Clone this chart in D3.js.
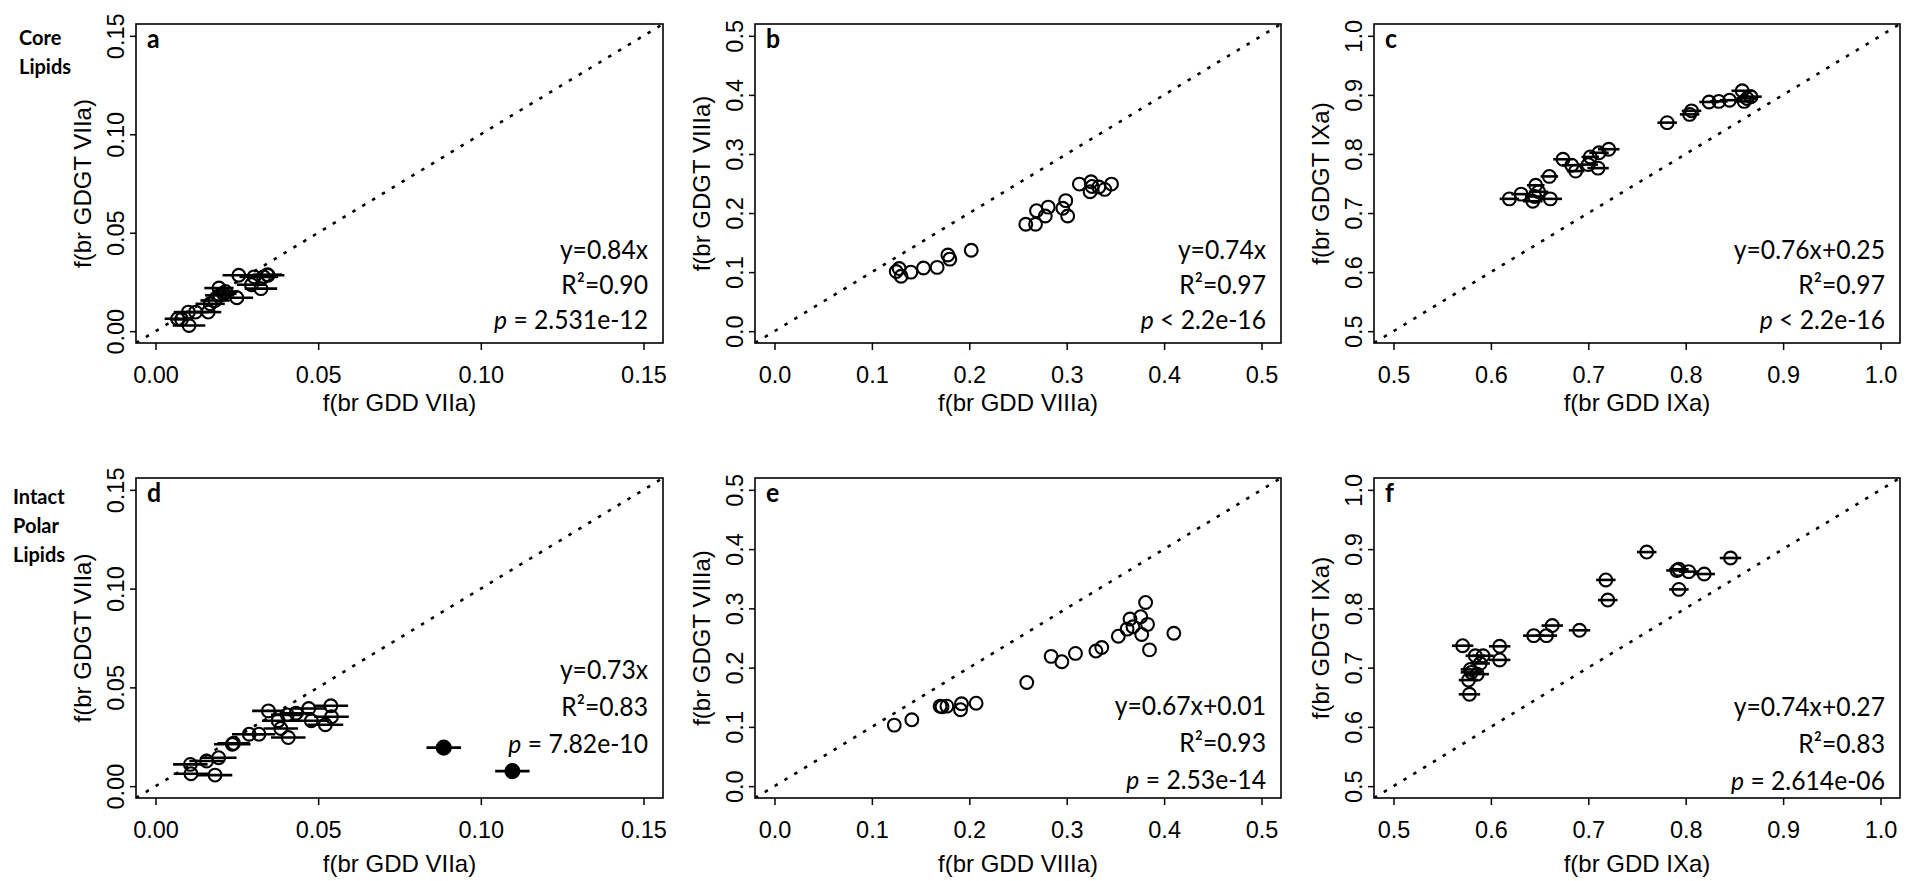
<!DOCTYPE html>
<html>
<head>
<meta charset="utf-8">
<script src="https://cdn.jsdelivr.net/npm/d3@7"></script>
<style>
  body { margin: 0; background: #fff; }
  svg { display: block; }
</style>
</head>
<body>
<svg id="chart"></svg>
<script>
// [f(br GDD), f(br GDGT), x error]
const coreVIIa = [
  [0.0068, 0.0063, 0.0040], [0.0080, 0.0060, 0.0035], [0.0103, 0.0029, 0.0050],
  [0.0101, 0.0097, 0.0045], [0.0123, 0.0097, 0.0040], [0.0162, 0.0097, 0.0040],
  [0.0168, 0.0139, 0.0045], [0.0183, 0.0156, 0.0045], [0.0197, 0.0182, 0.0045],
  [0.0195, 0.0219, 0.0045], [0.0209, 0.0190, 0.0040], [0.0215, 0.0202, 0.0040],
  [0.0250, 0.0170, 0.0050], [0.0256, 0.0284, 0.0050], [0.0295, 0.0236, 0.0045],
  [0.0303, 0.0276, 0.0045], [0.0324, 0.0216, 0.0050], [0.0332, 0.0276, 0.0045],
  [0.0346, 0.0284, 0.0050], [0.0344, 0.0287, 0.0045]
];
const coreVIIIa = [
  [0.125, 0.101, 0], [0.128, 0.106, 0], [0.130, 0.093, 0], [0.140, 0.100, 0],
  [0.153, 0.107, 0], [0.167, 0.108, 0], [0.178, 0.129, 0], [0.180, 0.122, 0],
  [0.202, 0.137, 0], [0.258, 0.181, 0], [0.268, 0.181, 0], [0.269, 0.204, 0],
  [0.278, 0.195, 0], [0.281, 0.210, 0], [0.296, 0.208, 0], [0.299, 0.221, 0],
  [0.301, 0.195, 0], [0.313, 0.249, 0], [0.325, 0.253, 0], [0.324, 0.236, 0],
  [0.326, 0.245, 0], [0.333, 0.244, 0], [0.339, 0.240, 0], [0.346, 0.249, 0]
];
const coreIXa = [
  [0.619, 0.724, 0.010], [0.631, 0.732, 0.010], [0.643, 0.720, 0.010],
  [0.645, 0.728, 0.010], [0.646, 0.747, 0.009], [0.649, 0.736, 0.010],
  [0.661, 0.724, 0.012], [0.660, 0.762, 0.009], [0.674, 0.791, 0.010],
  [0.683, 0.781, 0.010], [0.687, 0.771, 0.009], [0.700, 0.782, 0.010],
  [0.702, 0.795, 0.009], [0.710, 0.776, 0.011], [0.711, 0.802, 0.010],
  [0.721, 0.808, 0.011], [0.781, 0.853, 0.010], [0.804, 0.867, 0.010],
  [0.806, 0.873, 0.010], [0.824, 0.888, 0.010], [0.834, 0.889, 0.009],
  [0.845, 0.891, 0.010], [0.858, 0.907, 0.011], [0.860, 0.889, 0.010],
  [0.863, 0.894, 0.011], [0.867, 0.897, 0.011]
];
const ipVIIa = [
  [0.0107, 0.0110, 0.0053], [0.0109, 0.0063, 0.0053], [0.0183, 0.0056, 0.0053],
  [0.0157, 0.0127, 0.0053], [0.0194, 0.0144, 0.0055], [0.0236, 0.0212, 0.0056],
  [0.0240, 0.0217, 0.0050], [0.0288, 0.0263, 0.0053], [0.0318, 0.0263, 0.0050],
  [0.0347, 0.0381, 0.0050], [0.0377, 0.0331, 0.0050], [0.0385, 0.0292, 0.0053],
  [0.0405, 0.0361, 0.0050], [0.0408, 0.0246, 0.0053], [0.0432, 0.0369, 0.0050],
  [0.0471, 0.0393, 0.0055], [0.0479, 0.0331, 0.0055], [0.0522, 0.0311, 0.0055],
  [0.0539, 0.0407, 0.0053], [0.0541, 0.0351, 0.0053]
];
// drawn as filled circles (outliers)
const ipVIIaOutliers = [
  [0.0886, 0.0195, 0.0053], [0.1097, 0.0076, 0.0053]
];
const ipVIIIa = [
  [0.123, 0.103, 0], [0.141, 0.112, 0], [0.170, 0.135, 0], [0.172, 0.134, 0],
  [0.177, 0.135, 0], [0.192, 0.139, 0], [0.191, 0.129, 0], [0.207, 0.140, 0],
  [0.259, 0.175, 0], [0.284, 0.219, 0], [0.295, 0.210, 0], [0.309, 0.224, 0],
  [0.330, 0.228, 0], [0.336, 0.234, 0], [0.353, 0.253, 0], [0.362, 0.265, 0],
  [0.365, 0.282, 0], [0.368, 0.269, 0], [0.376, 0.286, 0], [0.377, 0.256, 0],
  [0.381, 0.310, 0], [0.383, 0.273, 0], [0.385, 0.230, 0], [0.410, 0.258, 0]
];
const ipIXa = [
  [0.571, 0.737, 0.011], [0.577, 0.679, 0.010], [0.578, 0.655, 0.011],
  [0.579, 0.697, 0.010], [0.580, 0.692, 0.011], [0.584, 0.720, 0.010],
  [0.586, 0.689, 0.012], [0.589, 0.707, 0.010], [0.592, 0.720, 0.011],
  [0.609, 0.736, 0.011], [0.609, 0.713, 0.011], [0.644, 0.754, 0.011],
  [0.657, 0.754, 0.011], [0.663, 0.771, 0.011], [0.691, 0.763, 0.011],
  [0.718, 0.848, 0.010], [0.720, 0.814, 0.010], [0.760, 0.895, 0.010],
  [0.791, 0.864, 0.011], [0.793, 0.866, 0.010], [0.793, 0.832, 0.010],
  [0.803, 0.862, 0.010], [0.819, 0.858, 0.011], [0.846, 0.885, 0.011]
];

const panelLetters = ["a", "b", "c", "d", "e", "f"];
const xTitles = ["f(br GDD VIIa)", "f(br GDD VIIIa)", "f(br GDD IXa)"];
const yTitles = ["f(br GDGT VIIa)", "f(br GDGT VIIIa)", "f(br GDGT IXa)"];
const axisDomains = [[-0.006, 0.156], [-0.02, 0.52], [0.48, 1.02]];
const ticksVII = [0, 0.05, 0.10, 0.15];
const ticksVIII = [0, 0.1, 0.2, 0.3, 0.4, 0.5];
const ticksIX = [0.5, 0.6, 0.7, 0.8, 0.9, 1.0];
const tickFormats = [".2f", ".1f", ".1f"];
const equations = ["y=0.84x", "y=0.74x", "y=0.76x+0.25", "y=0.73x", "y=0.67x+0.01", "y=0.74x+0.27"];
const rSquared = ["0.90", "0.97", "0.97", "0.83", "0.93", "0.83"];
const pSigns = ["=", "<", "<", "=", "=", "="];
const pValues = ["2.531e-12", "2.2e-16", "2.2e-16", "7.82e-10", "2.53e-14", "2.614e-06"];
const rowLabels = [["Core", "Lipids"], ["Intact", "Polar", "Lipids"]];

// layout
const width = 1907, height = 881;
const cols = [{ left: 136, right: 663 }, { left: 755, right: 1281 }, { left: 1374, right: 1900 }];
const rows = [{ top: 24, bottom: 343, titleY: 68 }, { top: 478, bottom: 798, titleY: 74 }];
const statsRight = [648, 1266, 1885];
const statsTop = [250, 250, 250, 670, 706, 707];
const statsGap = [35, 37];

const axisFont = "'Liberation Sans', Arial, sans-serif";
const calFont = "Lato, 'Open Sans', sans-serif";

const svg = d3.select("#chart").attr("width", width).attr("height", height)
  .style("background", "#fff");

const tickSets = [ticksVII, ticksVIII, ticksIX];
const datasets = [coreVIIa, coreVIIIa, coreIXa, ipVIIa, ipVIIIa, ipIXa];

function drawPanel(r, c) {
  const i = r * 3 + c;
  const box = { ...cols[c], ...rows[r] };
  const x = d3.scaleLinear().domain(axisDomains[c]).range([box.left, box.right]);
  const y = d3.scaleLinear().domain(axisDomains[c]).range([box.bottom, box.top]);
  const g = svg.append("g");

  const clipId = "clip" + i;
  svg.append("clipPath").attr("id", clipId).append("rect")
    .attr("x", box.left).attr("y", box.top)
    .attr("width", box.right - box.left).attr("height", box.bottom - box.top);

  // 1:1 line
  g.append("line")
    .attr("clip-path", `url(#${clipId})`)
    .attr("x1", x(axisDomains[c][0])).attr("y1", y(axisDomains[c][0]))
    .attr("x2", x(axisDomains[c][1])).attr("y2", y(axisDomains[c][1]))
    .attr("stroke", "#000").attr("stroke-width", 2.6)
    .attr("stroke-dasharray", "3.5,8");

  // axes
  const fmt = d3.format(tickFormats[c]);
  const xAxis = g.append("g").attr("transform", `translate(0,${box.bottom})`)
    .call(d3.axisBottom(x).tickValues(tickSets[c]).tickFormat(fmt).tickSize(7).tickPadding(0));
  const yAxis = g.append("g").attr("transform", `translate(${box.left},0)`)
    .call(d3.axisLeft(y).tickValues(tickSets[c]).tickFormat(fmt).tickSize(6));
  [xAxis, yAxis].forEach(a => {
    a.select(".domain").remove();
    a.selectAll(".tick line").attr("stroke", "#000").attr("stroke-width", 1.5);
  });
  xAxis.selectAll(".tick text")
    .attr("y", 0).attr("dy", null)
    .attr("transform", "translate(0,40)")
    .style("font-family", axisFont).style("font-size", "23.5px").attr("fill", "#000");
  yAxis.selectAll(".tick text")
    .attr("x", 0).attr("dy", null).attr("text-anchor", "middle")
    .attr("transform", "translate(-12,0) rotate(-90)")
    .style("font-family", axisFont).style("font-size", "23.5px").attr("fill", "#000");

  // axis titles
  g.append("text")
    .attr("transform", `translate(${(box.left + box.right) / 2},${box.bottom + box.titleY})`)
    .attr("text-anchor", "middle")
    .style("font-family", axisFont).style("font-size", "24px")
    .text(xTitles[c]);
  g.append("text")
    .attr("transform", `translate(${box.left - 45},${(box.top + box.bottom) / 2}) rotate(-90)`)
    .attr("text-anchor", "middle")
    .style("font-family", axisFont).style("font-size", "24px")
    .text(yTitles[c]);

  // box
  g.append("rect")
    .attr("x", box.left).attr("y", box.top)
    .attr("width", box.right - box.left).attr("height", box.bottom - box.top)
    .attr("fill", "none").attr("stroke", "#000").attr("stroke-width", 1.6);

  // points
  let pts = datasets[i].map(d => ({ x: d[0], y: d[1], e: d[2], filled: false }));
  if (i === 3) pts = pts.concat(ipVIIaOutliers.map(d => ({ x: d[0], y: d[1], e: d[2], filled: true })));

  g.append("g").selectAll("line").data(pts.filter(d => d.e > 0)).enter()
    .append("line")
    .attr("x1", d => x(d.x - d.e)).attr("x2", d => x(d.x + d.e))
    .attr("y1", d => y(d.y)).attr("y2", d => y(d.y))
    .attr("stroke", "#000").attr("stroke-width", 2.6);

  g.append("g").selectAll("circle").data(pts).enter()
    .append("circle")
    .attr("cx", d => x(d.x)).attr("cy", d => y(d.y)).attr("r", d => d.filled ? 7 : 6.4)
    .attr("fill", d => d.filled ? "#000" : "none")
    .attr("stroke", "#000").attr("stroke-width", 2.1);

  // panel letter
  g.append("text")
    .attr("transform", `translate(${box.left + 11},${box.top + 24}) scale(0.92,1)`)
    .style("font-family", calFont).style("font-size", "27px").style("font-weight", "bold")
    .text(panelLetters[i]);

  // regression stats
  const st = g.append("g").style("font-family", calFont).style("font-size", "26px");
  [0, 1, 2].forEach(k => {
    const t = st.append("text")
      .attr("transform", `translate(${statsRight[c]},${statsTop[i] + k * statsGap[r]}) scale(0.95,1)`)
      .attr("text-anchor", "end").attr("dy", "0.35em");
    if (k === 0) t.text(equations[i]);
    if (k === 1) t.text("R\u00B2=" + rSquared[i]);
    if (k === 2) {
      t.append("tspan").style("font-style", "italic").text("p");
      t.append("tspan").text(` ${pSigns[i]} ${pValues[i]}`);
    }
  });
}

for (let r = 0; r < 2; r++) for (let c = 0; c < 3; c++) drawPanel(r, c);

// row labels
const rowLabelPos = [{ x: 19, y: 38 }, { x: 13, y: 497 }];
rowLabels.forEach((lab, r) => {
  lab.forEach((w, k) => {
    svg.append("text")
      .attr("transform", `translate(${rowLabelPos[r].x},${rowLabelPos[r].y + k * 29})`)
      .attr("dy", "0.35em")
      .style("font-family", calFont).style("font-size", "20px").style("font-weight", "bold")
      .text(w);
  });
});
</script>
</body>
</html>
